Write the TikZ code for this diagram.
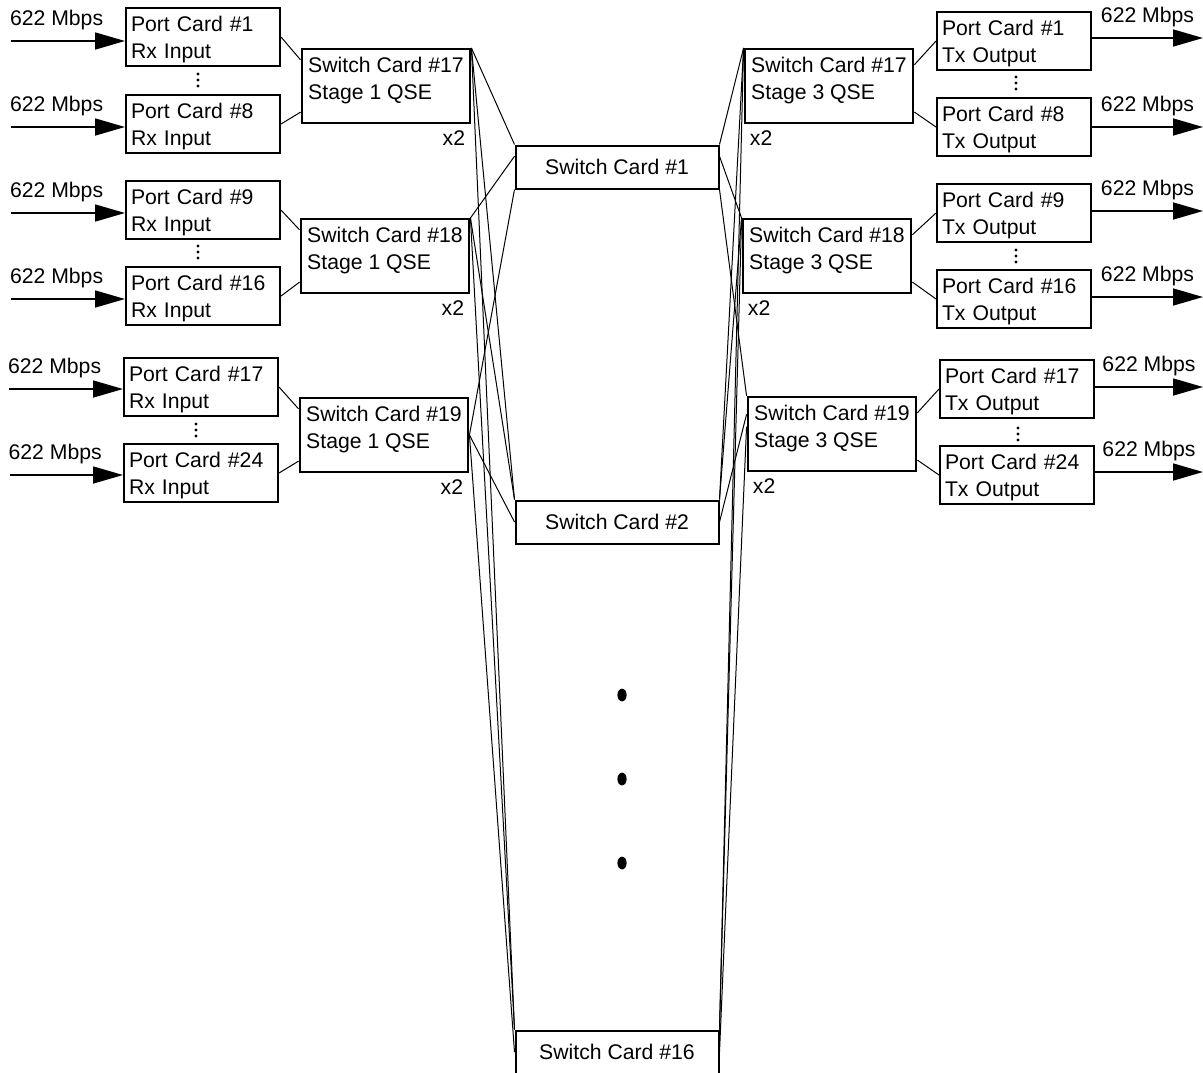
\documentclass[tikz,border=0pt]{standalone}
\usepackage{fontspec}
\setmainfont{Liberation Sans}
\usetikzlibrary{arrows.meta}

\begin{document}
\begin{tikzpicture}[x=0.5pt, y=-0.5pt, font=\fontsize{10.6}{13.5}\selectfont,
  port/.style={draw, line width=1pt, align=left, text width=72pt, inner xsep=2.5pt, minimum height=29pt, text depth=13pt},
  qse/.style={draw, line width=1pt, align=left, minimum width=83pt, minimum height=37pt, text depth=8pt},
  mid/.style={draw, line width=1pt, minimum width=101.5pt, minimum height=21.5pt},
  rate/.style={inner sep=0pt, above=5pt},
  feed/.style={-{Triangle[length=15pt, width=8.5pt]}, line width=0.8pt},
  link/.style={line width=0.5pt},
  mult/.style={inner sep=3pt}]
  \useasboundingbox (0,0) rectangle (1203,1072);

  % ingress port cards
  \node[port] (pc1L)  at (203,37)  {Port Card \#1\\Rx Input};
  \node[port] (pc8L)  at (203,124) {Port Card \#8\\Rx Input};
  \node[port] (pc9L)  at (203,210) {Port Card \#9\\Rx Input};
  \node[port] (pc16L) at (203,296) {Port Card \#16\\Rx Input};
  \node[port] (pc17L) at (201,387) {Port Card \#17\\Rx Input};
  \node[port] (pc24L) at (201,473) {Port Card \#24\\Rx Input};

  % egress port cards
  \node[port] (pc1R)  at (1014,41)  {Port Card \#1\\Tx Output};
  \node[port] (pc8R)  at (1014,127) {Port Card \#8\\Tx Output};
  \node[port] (pc9R)  at (1014,213) {Port Card \#9\\Tx Output};
  \node[port] (pc16R) at (1014,299) {Port Card \#16\\Tx Output};
  \node[port] (pc17R) at (1017,389) {Port Card \#17\\Tx Output};
  \node[port] (pc24R) at (1017,475) {Port Card \#24\\Tx Output};

  % vertical ellipses between port cards
  \foreach \x/\y in {198/80, 198/252, 196/430, 1016/83, 1016/256, 1018/434}
    \foreach \dy in {-6,0,6}
      \fill (\x,\y+\dy) circle[radius=0.8pt];

  % stage 1 / stage 3 switch cards
  \node[qse] (sc17L) at (386,86)  {Switch Card \#17\\Stage 1 QSE};
  \node[qse] (sc18L) at (385,256) {Switch Card \#18\\Stage 1 QSE};
  \node[qse] (sc19L) at (384,435) {Switch Card \#19\\Stage 1 QSE};
  \node[qse] (sc17R) at (829,86)  {Switch Card \#17\\Stage 3 QSE};
  \node[qse] (sc18R) at (827,256) {Switch Card \#18\\Stage 3 QSE};
  \node[qse] (sc19R) at (832,434) {Switch Card \#19\\Stage 3 QSE};
  \node[mult, anchor=north east] (x17L) at (sc17L.south east) {x2};
  \node[mult, anchor=north east] (x18L) at (sc18L.south east) {x2};
  \node[mult, anchor=north east] (x19L) at (sc19L.south east) {x2};
  \node[mult, anchor=north west] (x17R) at (sc17R.south west) {x2};
  \node[mult, anchor=north west] (x18R) at (sc18R.south west) {x2};
  \node[mult, anchor=north west] (x19R) at (sc19R.south west) {x2};

  % stage 2 switch cards
  \node[mid] (sc1)  at (617,167)  {Switch Card \#1};
  \node[mid] (sc2)  at (617,522)  {Switch Card \#2};
  \node[mid] (sc16) at (617,1052) {Switch Card \#16};
  \fill (622,695) ellipse [x radius=2.3pt, y radius=3.2pt];
  \fill (622,779) ellipse [x radius=2.3pt, y radius=3.2pt];
  \fill (622,863) ellipse [x radius=2.3pt, y radius=3.2pt];

  % 622 Mbps feeds
  \coordinate (in1) at (11,41);   \coordinate (in8) at (11,127);
  \coordinate (in9) at (11,213);  \coordinate (in16) at (11,299);
  \coordinate (in17) at (9,389);  \coordinate (in24) at (10,475);
  \coordinate (out1) at (1203,38);   \coordinate (out8) at (1203,127);
  \coordinate (out9) at (1203,211);  \coordinate (out16) at (1203,297);
  \coordinate (out17) at (1203,387); \coordinate (out24) at (1203,472);
  \draw[feed] (in1) -- (in1 -| pc1L.west) node[rate, pos=0.4] {622 Mbps};
  \draw[feed] (in8) -- (in8 -| pc8L.west) node[rate, pos=0.4] {622 Mbps};
  \draw[feed] (in9) -- (in9 -| pc9L.west) node[rate, pos=0.4] {622 Mbps};
  \draw[feed] (in16) -- (in16 -| pc16L.west) node[rate, pos=0.4] {622 Mbps};
  \draw[feed] (in17) -- (in17 -| pc17L.west) node[rate, pos=0.4] {622 Mbps};
  \draw[feed] (in24) -- (in24 -| pc24L.west) node[rate, pos=0.4] {622 Mbps};
  \draw[feed] (out1 -| pc1R.east) -- (out1) node[rate, pos=0.5] {622 Mbps};
  \draw[feed] (out8 -| pc8R.east) -- (out8) node[rate, pos=0.5] {622 Mbps};
  \draw[feed] (out9 -| pc9R.east) -- (out9) node[rate, pos=0.5] {622 Mbps};
  \draw[feed] (out16 -| pc16R.east) -- (out16) node[rate, pos=0.5] {622 Mbps};
  \draw[feed] (out17 -| pc17R.east) -- (out17) node[rate, pos=0.5] {622 Mbps};
  \draw[feed] (out24 -| pc24R.east) -- (out24) node[rate, pos=0.5] {622 Mbps};

  % port cards to QSEs
  \draw[link] (pc1L.east) -- (sc17L.163);
  \draw[link] (pc8L.east) -- (sc17L.197);
  \draw[link] (pc9L.east) -- (sc18L.163);
  \draw[link] (pc16L.east) -- (sc18L.197);
  \draw[link] (pc17L.east) -- (sc19L.163);
  \draw[link] (pc24L.east) -- (sc19L.197);
  \draw[link] (sc17R.14) -- (pc1R.west);
  \draw[link] (sc17R.343) -- (pc8R.west);
  \draw[link] (sc18R.14) -- (pc9R.west);
  \draw[link] (sc18R.343) -- (pc16R.west);
  \draw[link] (sc19R.14) -- (pc17R.west);
  \draw[link] (sc19R.343) -- (pc24R.west);

  % stage 1 to stage 2
  \draw[link] (sc17L.north east) -- (sc1.north west);
  \draw[link] (sc17L.north east) -- (sc2.north west);
  \draw[link] (sc17L.north east) -- (sc16.north west);
  \draw[link] (sc18L.north east) -- (sc1.174);
  \draw[link] (sc18L.north east) -- (sc2.north west);
  \draw[link] (sc18L.north east) -- (sc16.north west);
  \draw[link] (sc19L.east) -- (sc1.south west);
  \draw[link] (sc19L.east) -- (sc2.west);
  \draw[link] (sc19L.east) -- (sc16.west);

  % stage 2 to stage 3
  \draw[link] (sc1.north east) -- (sc17R.north west);
  \draw[link] (sc2.north east) -- (sc17R.north west);
  \draw[link] (sc16.north east) -- (sc17R.north west);
  \draw[link] (sc1.6) -- (sc18R.north west);
  \draw[link] (sc2.north east) -- (sc18R.north west);
  \draw[link] (sc16.north east) -- (sc18R.north west);
  \draw[link] (sc1.south east) -- (sc19R.north west);
  \draw[link] (sc2.east) -- (sc19R.167);
  \draw[link] (sc16.east) -- (sc19R.175);
\end{tikzpicture}
\end{document}
